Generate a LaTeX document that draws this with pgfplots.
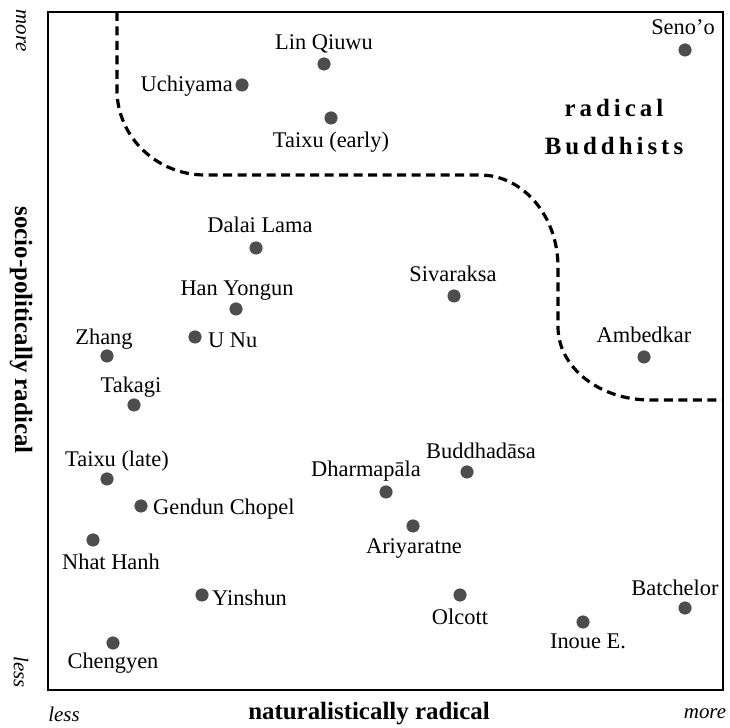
\documentclass[border=0pt]{standalone}
\usepackage{fontspec}
\setmainfont{Liberation Serif}
\usepackage{pgfplots}
\pgfplotsset{compat=1.18}
\definecolor{dotgray}{HTML}{4D4D4D}
\newcommand{\lbl}{\fontsize{22.5}{26}\selectfont}
\newcommand{\itl}{\fontsize{21}{25}\selectfont\itshape}
\newcommand{\bigbf}{\fontsize{25}{29}\selectfont\bfseries}
\begin{document}
\begin{tikzpicture}
\begin{axis}[
  scale only axis, width=675bp, height=678bp,
  xmin=48, xmax=723, ymin=38, ymax=716,
  xtick=\empty, ytick=\empty,
  axis line style={line width=1.4bp},
  clip=false,
]
\coordinate (BL) at (axis cs:0,0);
\coordinate (TR) at (axis cs:730,728);
% dashed boundary
\draw[line width=3.2bp, dash pattern=on 9bp off 5.5bp]
  (axis cs:117,716) -- (axis cs:117,638)
  .. controls (axis cs:117,591) and (axis cs:157,553) .. (axis cs:205,553)
  -- (axis cs:480,553)
  .. controls (axis cs:523,553) and (axis cs:558,512) .. (axis cs:558,461)
  -- (axis cs:558,401)
  .. controls (axis cs:558,361) and (axis cs:599,328) .. (axis cs:650,328)
  -- (axis cs:723,328);
\addplot[only marks, mark=*, mark size=6.3bp, color=dotgray] coordinates {
(685,678) (324,664) (242,643) (331,610) (256,480) (454,432) (236,419)
(195,391) (107,372) (644,371) (134,323) (467,256) (107,249) (386,236)
(141,222) (413,202) (93,188) (202,133) (460,133) (685,120) (583,106) (113,85)
};
% point labels
\begin{scope}[every node/.style={font=\lbl, inner sep=0pt, anchor=base}]
\node at (axis cs:683,693) {Seno’o};
\node at (axis cs:324,678) {Lin Qiuwu};
\node[anchor=base east] at (axis cs:233,636) {Uchiyama};
\node at (axis cs:331,580) {Taixu (early)};
\node at (axis cs:260,495) {Dalai Lama};
\node at (axis cs:453,446) {Sivaraksa};
\node at (axis cs:237,432) {Han Yongun};
\node[anchor=base west] at (axis cs:208,380) {U Nu};
\node at (axis cs:104,383) {Zhang};
\node at (axis cs:644,385) {Ambedkar};
\node at (axis cs:131,335) {Takagi};
\node at (axis cs:481,269) {Buddhadāsa};
\node at (axis cs:117,261) {Taixu (late)};
\node at (axis cs:366,251) {Dharmapāla};
\node[anchor=base west] at (axis cs:153,213) {Gendun Chopel};
\node at (axis cs:414,174) {Ariyaratne};
\node at (axis cs:111,158) {Nhat Hanh};
\node[anchor=base west] at (axis cs:212,122) {Yinshun};
\node at (axis cs:460,103) {Olcott};
\node at (axis cs:675,132) {Batchelor};
\node at (axis cs:588,79) {Inoue E.};
\node at (axis cs:113,60) {Chengyen};
\end{scope}
% region label
\node[font=\bigbf, inner sep=0pt, anchor=base] at (axis cs:614,611) {\addfontfeature{LetterSpace=16}radical};
\node[font=\bigbf, inner sep=0pt, anchor=base] at (axis cs:614,573) {\addfontfeature{LetterSpace=16}Buddhists};
% axis titles
\node[font=\bigbf, inner sep=0pt] at (axis cs:369,14) {naturalistically radical};
\node[font=\bigbf, inner sep=0pt, rotate=-90] at (axis cs:21,398) {socio-politically radical};
\node[font=\itl, inner sep=0pt] at (axis cs:64,14) {less};
\node[font=\itl, inner sep=0pt] at (axis cs:705,14) {more};
\node[font=\itl, inner sep=0pt, rotate=-90] at (axis cs:21,697) {more};
\node[font=\itl, inner sep=0pt, rotate=-90] at (axis cs:21,56) {less};
\end{axis}
\pgfresetboundingbox
\path (BL) rectangle (TR);
\end{tikzpicture}
\end{document}
